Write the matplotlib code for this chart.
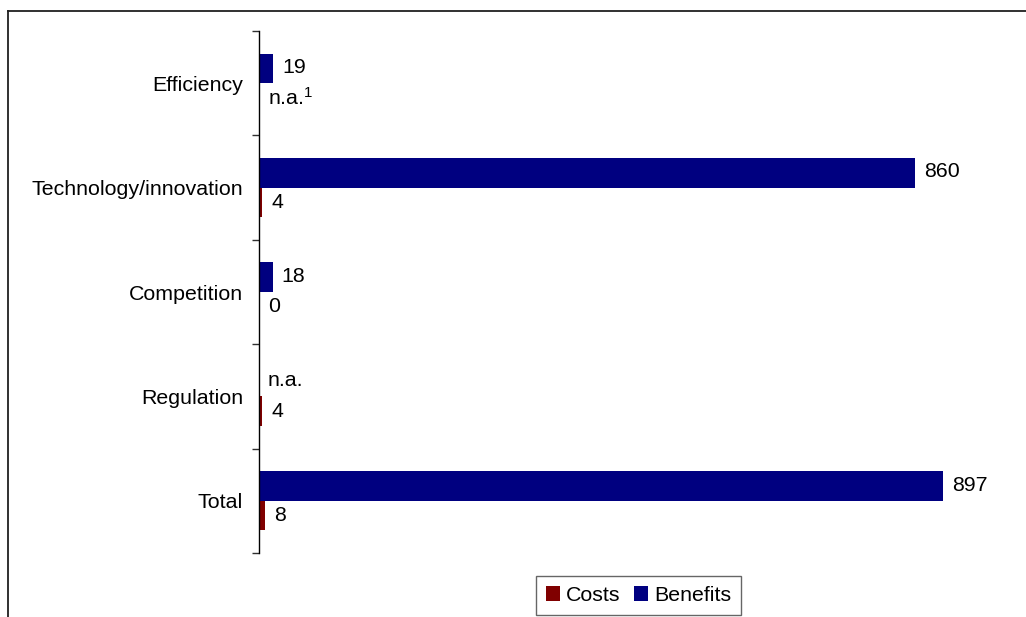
import numpy as np
import matplotlib
matplotlib.use("Agg")
import matplotlib.pyplot as plt
from matplotlib.lines import Line2D

plt.rcParams['font.family'] = ['Liberation Sans', 'DejaVu Sans']
plt.rcParams['mathtext.fontset'] = 'custom'
plt.rcParams['mathtext.rm'] = 'Liberation Sans'
plt.rcParams['mathtext.it'] = 'Liberation Sans'

categories = ["Efficiency", "Technology/innovation", "Competition", "Regulation", "Total"]
benefits = [19, 860, 18, np.nan, 897]
costs = [np.nan, 4, 0, 4, 8]
benefit_labels = ["19", "860", "18", "n.a.", "897"]
cost_labels = ["n.a.$^{\\mathrm{1}}$", "4", "0", "4", "8"]

navy = "#000080"
darkred = "#800000"

fig = plt.figure(figsize=(10.26, 6.17), dpi=100)
ax = fig.add_axes([259/1026, 1-553/617, 0.9737-259/1026, (553-31)/617])

y = np.arange(len(categories))
h = 0.283
b = ax.barh(y - h/2, np.nan_to_num(benefits), height=h, color=navy, label="Benefits")
c = ax.barh(y + h/2, np.nan_to_num(costs), height=h, color=darkred, label="Costs")

fs = 15.4
for i in range(len(categories)):
    bv = 0 if np.isnan(benefits[i]) else benefits[i]
    cv = 0 if np.isnan(costs[i]) else costs[i]
    ax.annotate(benefit_labels[i], (bv, y[i] - h/2), xytext=(9, 1), textcoords="offset pixels",
                va="center", ha="left", fontsize=fs, color="black")
    ax.annotate(cost_labels[i], (cv, y[i] + h/2), xytext=(9, 0), textcoords="offset pixels",
                va="center", ha="left", fontsize=fs, color="black")

ax.set_xlim(0, 970)
ax.set_ylim(len(categories) - 0.5, -0.5)
for s in ["top", "right", "bottom"]:
    ax.spines[s].set_visible(False)
ax.spines["left"].set_color("black")
ax.spines["left"].set_linewidth(1.0)
ax.set_xticks([])
ax.set_yticks(np.arange(len(categories) + 1) - 0.5)
ax.set_yticklabels([])
ax.tick_params(axis="y", which="major", length=5, width=1, color="#303030")
ax.set_yticks(y, minor=True)
ax.set_yticklabels(categories, minor=True, fontsize=fs)
ax.tick_params(axis="y", which="minor", length=0, pad=11.5)

handles = [c, b]
leg = fig.legend(handles, ["Costs", "Benefits"], loc="center", bbox_to_anchor=(638.5/1026, 1-595.5/617),
                 ncol=2, fontsize=fs, frameon=True, fancybox=False, edgecolor="#404040",
                 handlelength=0.65, handleheight=0.65, handletextpad=0.3, columnspacing=0.6,
                 borderpad=0.45, borderaxespad=0)
leg.get_frame().set_linewidth(1.0)
leg._legend_box.sep = 0

fig.add_artist(Line2D([8/1026, 1], [1-10.5/617, 1-10.5/617], transform=fig.transFigure, color="#202020", lw=1.3))
fig.add_artist(Line2D([7.5/1026, 7.5/1026], [0, 1-10.5/617], transform=fig.transFigure, color="#202020", lw=1.3))

fig.savefig("out.png", dpi=100)
